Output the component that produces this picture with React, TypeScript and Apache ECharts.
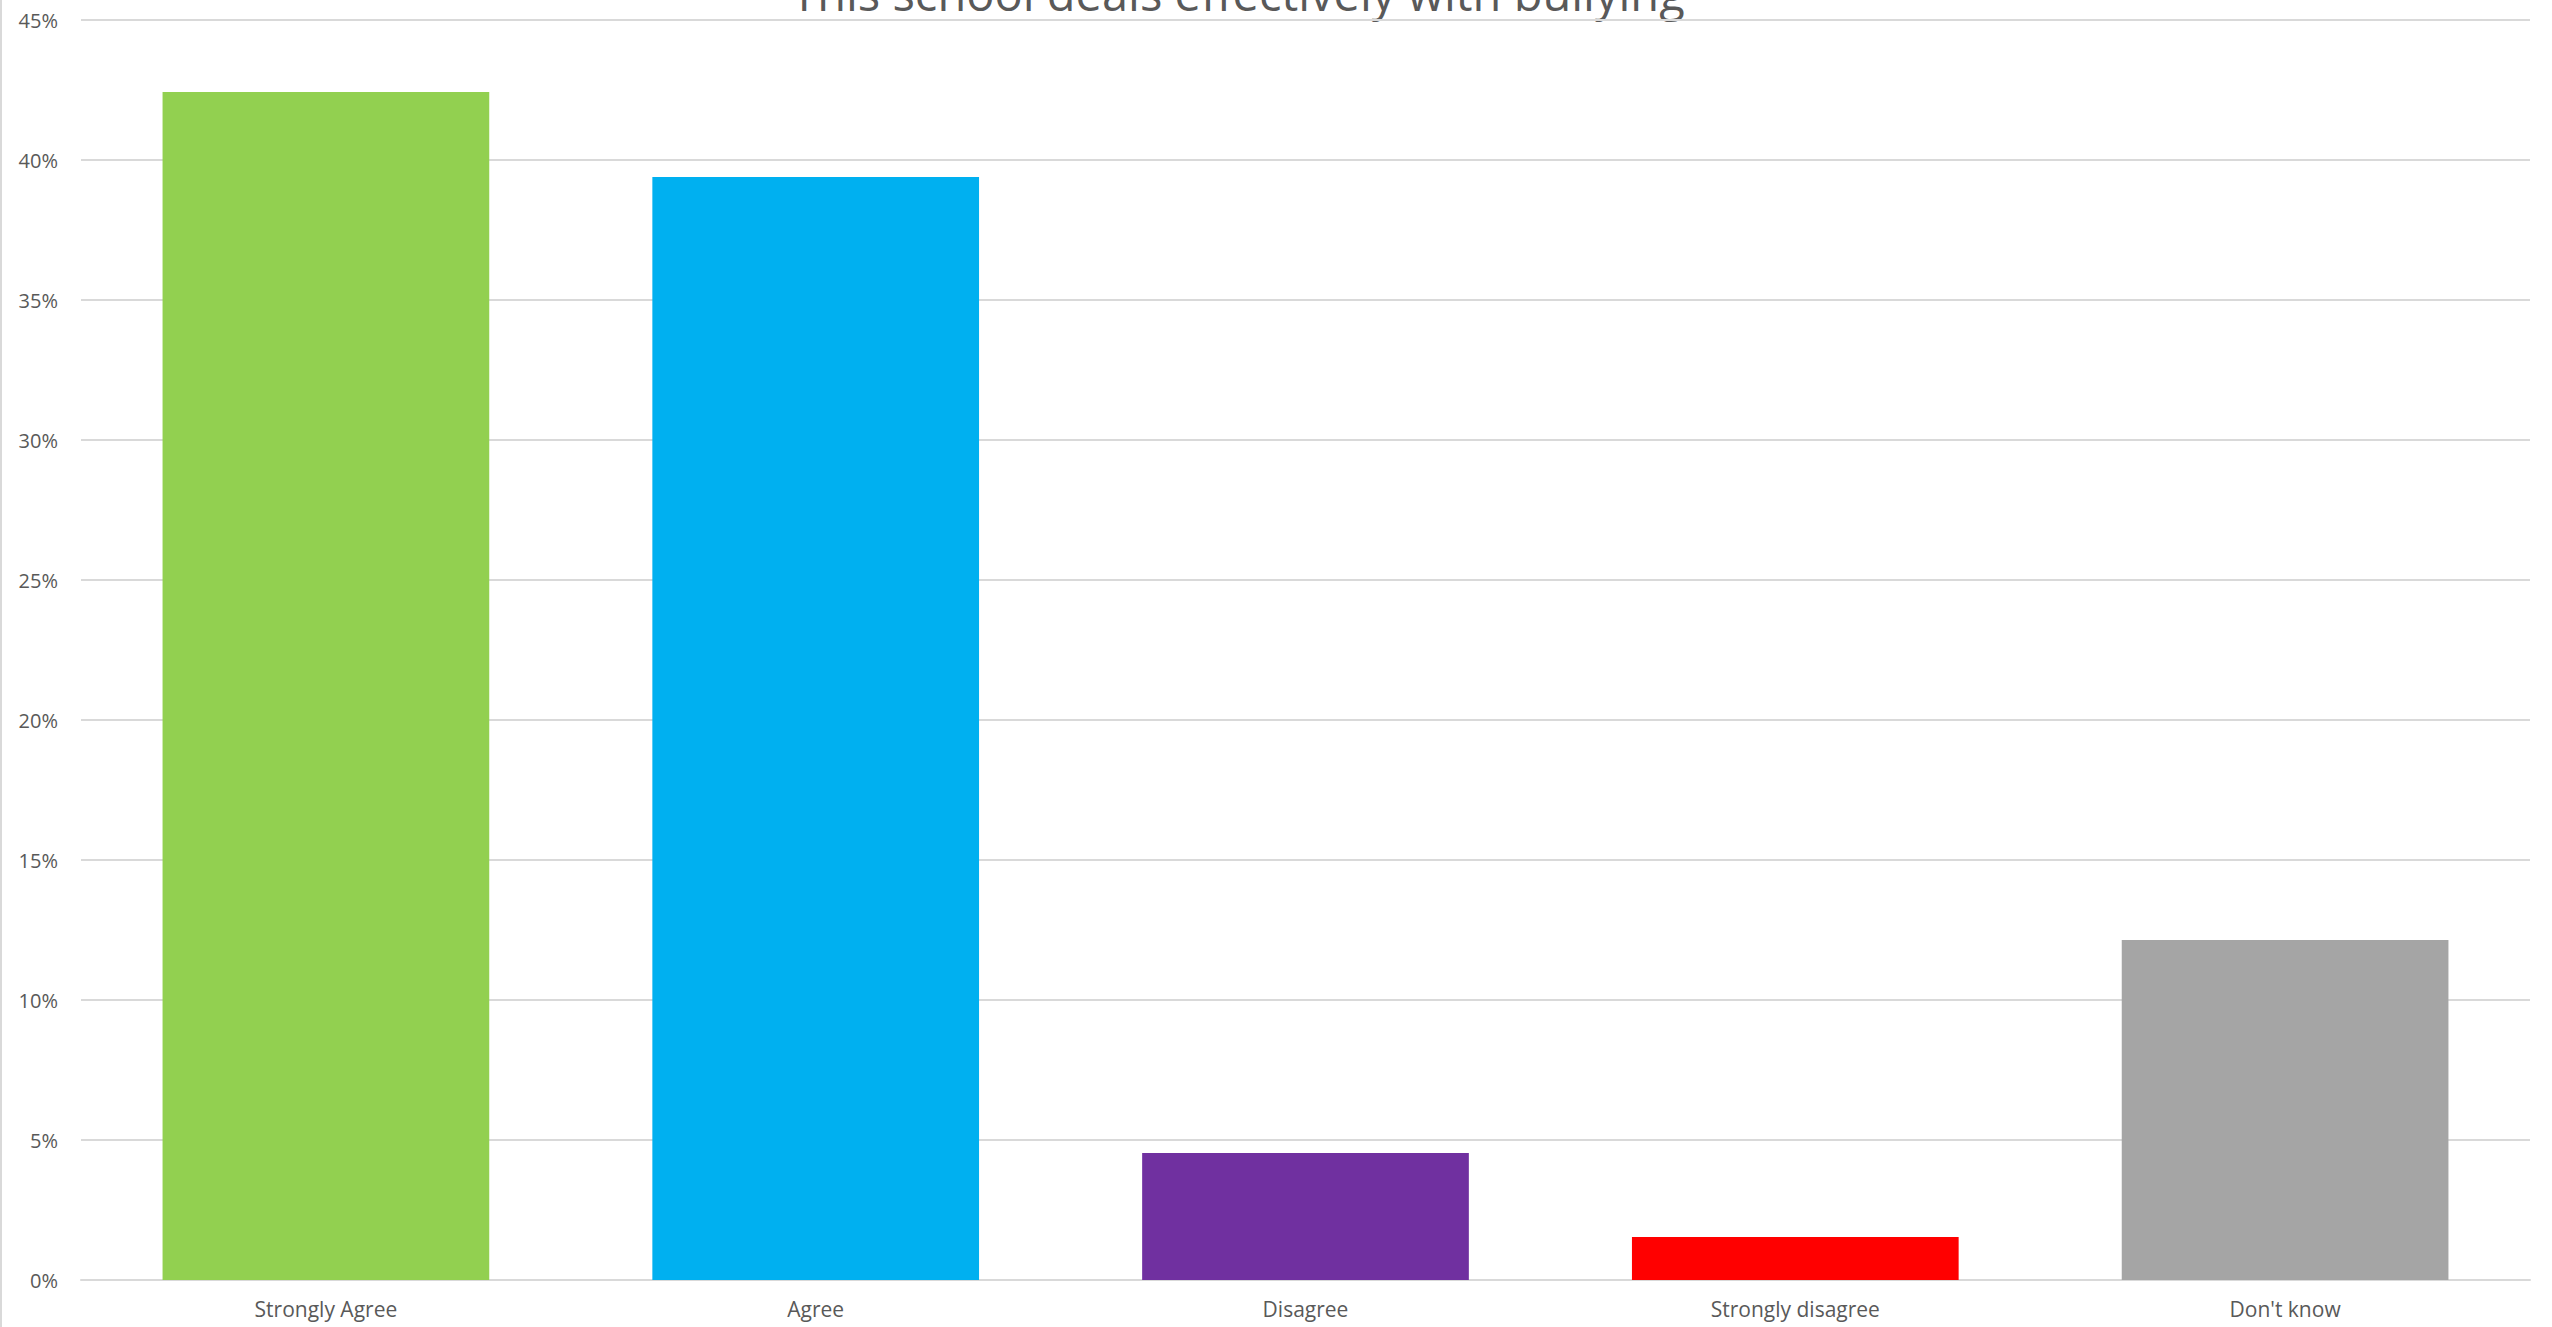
import React, { useEffect, useRef } from "react";
import * as echarts from "echarts";

const categories = ["Strongly Agree", "Agree", "Disagree", "Strongly disagree", "Don't know"];
const values = [42.43, 39.39, 4.54, 1.54, 12.14];
const barColors = ["#92D050", "#00B0F0", "#7030A0", "#FF0000", "#A5A5A5"];
const titleText = "This school deals effectively with bullying";
const yMax = 45;
const yInterval = 5;

export default function App() {
  const ref = useRef<HTMLDivElement>(null);
  useEffect(() => {
    document.body.style.margin = "0";
    const chart = echarts.init(ref.current!, null, { renderer: "svg" });
    chart.setOption({
      animation: false,
      backgroundColor: "#ffffff",
      textStyle: { fontFamily: "Open Sans" },
      grid: { left: 81, right: 22, top: 20, bottom: 47, containLabel: false },
      graphic: [
        {
          type: "text",
          x: 1238,
          y: 16,
          style: {
            text: titleText,
            fontFamily: "Open Sans",
            fontSize: 47,
            fill: "#595959",
            align: "center",
            verticalAlign: "bottom",
          },
        },
        {
          type: "line",
          shape: { x1: 1, y1: 0, x2: 1, y2: 1327 },
          style: { stroke: "#d9d9d9", lineWidth: 2 },
        },
      ],
      xAxis: {
        type: "category",
        data: categories,
        axisLine: { show: true, lineStyle: { color: "#d9d9d9", width: 2 } },
        axisTick: { show: false },
        axisLabel: { color: "#595959", fontSize: 21, margin: 18, fontFamily: "Open Sans" },
      },
      yAxis: {
        type: "value",
        min: 0,
        max: yMax,
        interval: yInterval,
        axisLine: { show: false },
        axisTick: { show: false },
        splitLine: { lineStyle: { color: "#d9d9d9", width: 2 } },
        axisLabel: { color: "#595959", fontSize: 20, margin: 23, formatter: "{value}%", fontFamily: "Open Sans" },
      },
      series: [
        {
          type: "bar",
          barWidth: "66.7%",
          data: values.map((v, i) => ({ value: v, itemStyle: { color: barColors[i] } })),
        },
      ],
    });
    return () => chart.dispose();
  }, []);
  return <div ref={ref} style={{ width: 2552, height: 1327 }} />;
}
